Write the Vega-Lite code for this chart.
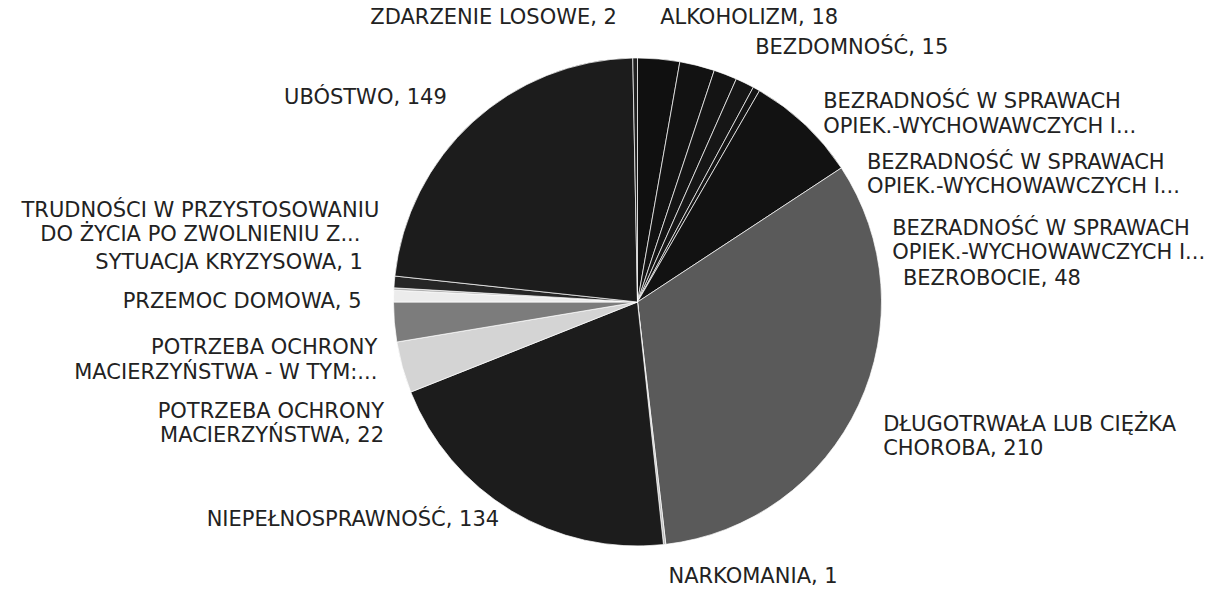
{
  "$schema": "https://vega.github.io/schema/vega-lite/v6.json",
  "autosize": "none",
  "width": 1160,
  "height": 574,
  "padding": {"left": 57.5, "top": 15, "right": 0, "bottom": 0},
  "background": "#ffffff",
  "view": {"stroke": null},
  "config": {"text": {"font": "DejaVu Sans", "fontSize": 21, "lineHeight": 24.5, "lineBreak": "\n", "fill": "#222222", "baseline": "middle", "radius": 260}},
  "data": {
    "values": [
      {"nr": 1, "label": "ALKOHOLIZM, 18", "value": 18},
      {"nr": 2, "label": "BEZDOMNOŚĆ, 15", "value": 15},
      {"nr": 3, "label": "BEZRADNOŚĆ W SPRAWACH\nOPIEK.-WYCHOWAWCZYCH I...", "value": 10},
      {"nr": 4, "label": "BEZRADNOŚĆ W SPRAWACH\nOPIEK.-WYCHOWAWCZYCH I...", "value": 8},
      {"nr": 5, "label": "BEZRADNOŚĆ W SPRAWACH\nOPIEK.-WYCHOWAWCZYCH I...", "value": 3},
      {"nr": 6, "label": "BEZROBOCIE, 48", "value": 48},
      {"nr": 7, "label": "DŁUGOTRWAŁA LUB CIĘŻKA\nCHOROBA, 210", "value": 210},
      {"nr": 8, "label": "NARKOMANIA, 1", "value": 1},
      {"nr": 9, "label": "NIEPEŁNOSPRAWNOŚĆ, 134", "value": 134},
      {"nr": 10, "label": "POTRZEBA OCHRONY\nMACIERZYŃSTWA, 22", "value": 22},
      {"nr": 11, "label": "POTRZEBA OCHRONY\nMACIERZYŃSTWA - W TYM:...", "value": 17},
      {"nr": 12, "label": "PRZEMOC DOMOWA, 5", "value": 5},
      {"nr": 13, "label": "SYTUACJA KRYZYSOWA, 1", "value": 1},
      {"nr": 14, "label": "TRUDNOŚCI W PRZYSTOSOWANIU\nDO ŻYCIA PO ZWOLNIENIU Z...", "value": 5},
      {"nr": 15, "label": "UBÓSTWO, 149", "value": 149},
      {"nr": 16, "label": "ZDARZENIE LOSOWE, 2", "value": 2}
    ]
  },
  "encoding": {
    "theta": {"field": "value", "type": "quantitative", "stack": true},
    "order": {"field": "nr", "type": "quantitative"}
  },
  "layer": [
    {
      "mark": {"type": "arc", "outerRadius": 244, "stroke": "#ffffff", "strokeWidth": 0.7},
      "encoding": {
        "color": {
          "field": "nr", "type": "nominal", "legend": null,
          "scale": {
            "domain": [1,2,3,4,5,6,7,8,9,10,11,12,13,14,15,16],
            "range": ["#101010","#121212","#141414","#161616","#141414","#121212","#5a5a5a","#bdbdbd","#1c1c1c","#d4d4d4","#7c7c7c","#ececec","#b0b0b0","#262626","#1c1c1c","#202020"]
          }
        }
      }
    },
    {"mark": {"type": "text", "align": "left", "dx": 0, "dy": -25},
     "encoding": {"text": {"condition": {"test": "datum.nr === 1", "field": "label"}, "value": ""}}},
    {"mark": {"type": "text", "align": "left", "dx": 54, "dy": -2},
     "encoding": {"text": {"condition": {"test": "datum.nr === 2", "field": "label"}, "value": ""}}},
    {"mark": {"type": "text", "align": "left", "dx": 92, "dy": 43},
     "encoding": {"text": {"condition": {"test": "datum.nr === 3", "field": "label"}, "value": ""}}},
    {"mark": {"type": "text", "align": "left", "dx": 115, "dy": 94},
     "encoding": {"text": {"condition": {"test": "datum.nr === 4", "field": "label"}, "value": ""}}},
    {"mark": {"type": "text", "align": "left", "dx": 128, "dy": 154},
     "encoding": {"text": {"condition": {"test": "datum.nr === 5", "field": "label"}, "value": ""}}},
    {"mark": {"type": "text", "align": "left", "dx": 87, "dy": 166},
     "encoding": {"text": {"condition": {"test": "datum.nr === 6", "field": "label"}, "value": ""}}},
    {"mark": {"type": "text", "align": "left", "dx": 10, "dy": 13},
     "encoding": {"text": {"condition": {"test": "datum.nr === 7", "field": "label"}, "value": ""}}},
    {"mark": {"type": "text", "align": "left", "dx": 2, "dy": 17},
     "encoding": {"text": {"condition": {"test": "datum.nr === 8", "field": "label"}, "value": ""}}},
    {"mark": {"type": "text", "align": "right", "dx": -4, "dy": -5},
     "encoding": {"text": {"condition": {"test": "datum.nr === 9", "field": "label"}, "value": ""}}},
    {"mark": {"type": "text", "align": "right", "dx": -3, "dy": 40},
     "encoding": {"text": {"condition": {"test": "datum.nr === 10", "field": "label"}, "value": ""}}},
    {"mark": {"type": "text", "align": "right", "dx": -1, "dy": 25},
     "encoding": {"text": {"condition": {"test": "datum.nr === 11", "field": "label"}, "value": ""}}},
    {"mark": {"type": "text", "align": "right", "dx": -16, "dy": 6},
     "encoding": {"text": {"condition": {"test": "datum.nr === 12", "field": "label"}, "value": ""}}},
    {"mark": {"type": "text", "align": "right", "dx": -15, "dy": -25},
     "encoding": {"text": {"condition": {"test": "datum.nr === 13", "field": "label"}, "value": ""}}},
    {"mark": {"type": "text", "align": "center", "dx": -178, "dy": -70},
     "encoding": {"text": {"condition": {"test": "datum.nr === 14", "field": "label"}, "value": ""}}},
    {"mark": {"type": "text", "align": "right", "dx": -15, "dy": -12},
     "encoding": {"text": {"condition": {"test": "datum.nr === 15", "field": "label"}, "value": ""}}},
    {"mark": {"type": "text", "align": "right", "dx": -18, "dy": -24},
     "encoding": {"text": {"condition": {"test": "datum.nr === 16", "field": "label"}, "value": ""}}}
  ]
}
